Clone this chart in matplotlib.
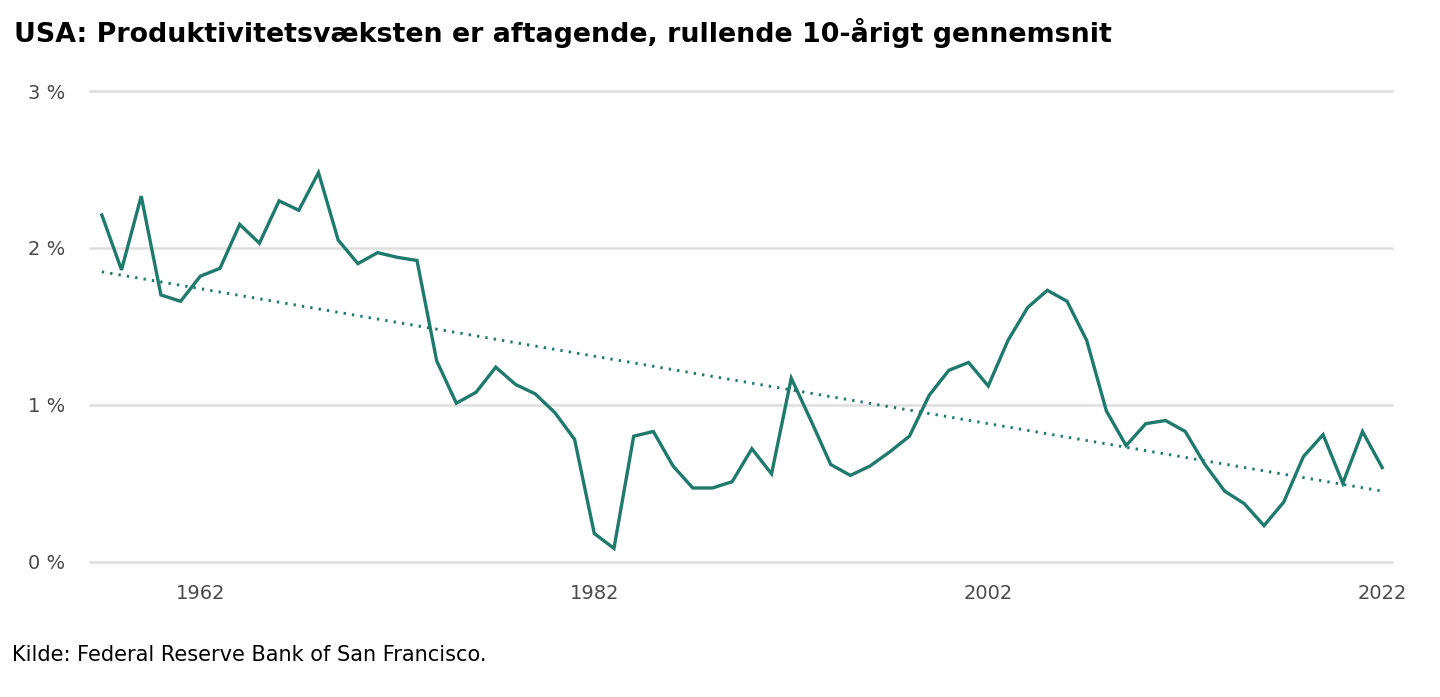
import numpy as np
import matplotlib
matplotlib.use("Agg")
import matplotlib.pyplot as plt

# rolling 10y average of US productivity growth, %
years = list(range(1957, 2023))
growth = [2.21, 1.86, 2.33, 1.70, 1.66, 1.82, 1.87, 2.15, 2.03, 2.30,
          2.24, 2.48, 2.05, 1.90, 1.97, 1.94, 1.92, 1.28, 1.01, 1.08,
          1.24, 1.13, 1.07, 0.95, 0.78, 0.18, 0.085, 0.80, 0.83, 0.61,
          0.47, 0.47, 0.51, 0.72, 0.56, 1.17, 0.90, 0.62, 0.55, 0.61,
          0.70, 0.80, 1.06, 1.22, 1.27, 1.12, 1.41, 1.62, 1.73, 1.66,
          1.41, 0.96, 0.74, 0.88, 0.90, 0.83, 0.62, 0.45, 0.37, 0.23,
          0.38, 0.67, 0.81, 0.50, 0.83, 0.60]
tick_years = [1962, 1982, 2002, 2022]
y_ticks = [0, 1, 2, 3]
y_labels = ["0 %", "1 %", "2 %", "3 %"]

title = "USA: Produktivitetsvæksten er aftagende, rullende 10-årigt gennemsnit"
source = "Kilde: Federal Reserve Bank of San Francisco."

teal = "#1f7a6c"

# linear trend line (like excel's)
coef = np.polyfit(years, growth, 1)
trend = np.polyval(coef, years)

fig = plt.figure(figsize=(14.4, 6.97), dpi=100)
ax = fig.add_axes([0.0625, 0.1941, 0.9042, 0.6753])

ax.plot(years, growth, color=teal, lw=2.4, solid_joinstyle="miter", zorder=3)
ax.plot(years, trend, color=teal, lw=2.1, linestyle=(0, (0.8, 2.1)), zorder=2)

ax.set_xlim(1956.4, 2022.5)
ax.set_ylim(0, 3)
ax.set_yticks(y_ticks)
ax.set_yticklabels(y_labels)
ax.set_xticks(tick_years)
ax.set_xticklabels([str(y) for y in tick_years])
ax.grid(axis="y", color="#dedede", lw=1.8)
for gl in ax.get_ygridlines():
    gl.set_clip_on(False)
ax.set_axisbelow(True)
for s in ax.spines.values():
    s.set_visible(False)
ax.tick_params(length=0, labelsize=14, labelcolor="#4a4a4a")
ax.tick_params(axis="y", pad=18)
ax.tick_params(axis="x", pad=16)

fig.text(0.0097, 0.952, title, fontsize=19.4, fontweight="bold", ha="left", va="center")
fig.text(0.0083, 0.06, source, fontsize=15, ha="left", va="center")

fig.savefig("out.png", dpi=100)
